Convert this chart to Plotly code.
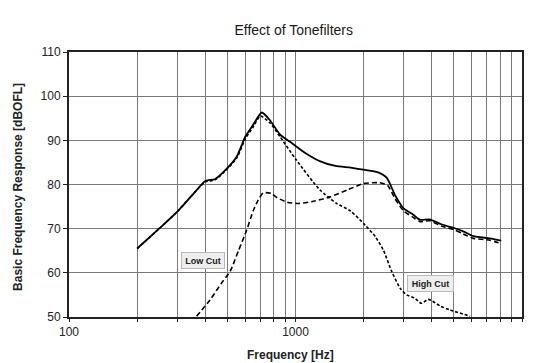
import plotly.graph_objects as go

# --- data ---
flat_f = [200, 250, 300, 350, 400, 440, 480, 550, 600, 650, 710, 770, 855, 950, 1100, 1280, 1500, 1750, 2030, 2300, 2530, 2750, 3000, 3300, 3550, 3900, 4400, 5050, 5500, 6100, 7200, 8100]
flat_v = [65.5, 70.0, 73.8, 77.6, 80.8, 81.2, 82.8, 86.3, 90.8, 93.5, 96.3, 94.6, 91.3, 89.6, 87.2, 85.3, 84.2, 83.8, 83.3, 82.8, 81.5, 77.6, 74.6, 73.2, 72.0, 72.1, 71.0, 70.1, 69.4, 68.3, 67.8, 67.3]

low_f = [366, 420, 470, 514, 560, 609, 650, 685, 720, 780, 830, 920, 1030, 1200, 1420, 1700, 2000, 2350, 2550, 2750, 3000, 3300, 3550, 3900, 4400, 5050, 5500, 6100, 7200, 8100]
low_v = [50.2, 53.9, 57.6, 60.3, 65.0, 69.7, 74.0, 76.5, 78.1, 78.0, 77.0, 76.0, 75.7, 76.2, 77.2, 78.8, 80.2, 80.4, 79.8, 76.8, 74.0, 72.6, 71.6, 71.8, 70.6, 69.7, 68.8, 67.8, 67.4, 66.6]

high_f = [200, 250, 300, 350, 400, 440, 480, 550, 600, 650, 700, 770, 855, 1010, 1280, 1520, 1750, 2030, 2250, 2440, 2660, 2900, 3100, 3350, 3600, 3860, 4350, 4800, 5900]
high_v = [65.5, 70.0, 73.8, 77.6, 80.6, 81.0, 82.6, 86.0, 90.3, 93.0, 95.5, 94.0, 90.8, 85.5, 78.8, 75.7, 74.0, 70.8, 68.2, 65.2, 60.3, 56.5, 55.0, 54.3, 53.1, 54.0, 52.5, 51.6, 50.2]

x_grid = [100, 200, 300, 400, 500, 600, 700, 800, 900, 1000, 2000, 3000, 4000, 5000, 6000, 7000, 8000, 9000, 10000]
x_labels = ["100" if v == 100 else "1000" if v == 1000 else "10000" if v == 10000 else "" for v in x_grid]
y_ticks = [50, 60, 70, 80, 90, 100, 110]

FONT = "Liberation Sans"

fig = go.Figure()
fig.add_trace(go.Scatter(x=flat_f, y=flat_v, mode="lines", name="Flat",
                         line=dict(color="black", width=1.8, shape="spline", smoothing=0.6)))
fig.add_trace(go.Scatter(x=low_f, y=low_v, mode="lines", name="Low Cut",
                         line=dict(color="black", width=1.6, dash="5px,3px", shape="spline", smoothing=0.6)))
fig.add_trace(go.Scatter(x=high_f, y=high_v, mode="lines", name="High Cut",
                         line=dict(color="black", width=1.6, dash="3px,2px", shape="spline", smoothing=0.6)))

fig.update_layout(
    width=539, height=363,
    margin=dict(l=69, r=17, t=52, b=46),
    paper_bgcolor="white", plot_bgcolor="white",
    showlegend=False,
    font=dict(family=FONT, color="#222"),
    title=dict(text="Effect of Tonefilters", x=0.545, xanchor="center", y=0.918, yanchor="middle",
               font=dict(family=FONT, size=14, color="#1a1a1a")),
    xaxis=dict(type="log", range=[2, 4], tickvals=x_grid, ticktext=x_labels,
               showgrid=True, gridcolor="#7a7a7a", gridwidth=1,
               showline=True, linecolor="#222", linewidth=2, mirror=True,
               ticks="outside", ticklen=3, tickcolor="#222",
               tickfont=dict(family=FONT, size=12, color="#222"), zeroline=False),
    yaxis=dict(range=[50, 110], tickvals=y_ticks,
               showgrid=True, gridcolor="#7a7a7a", gridwidth=1,
               showline=True, linecolor="#222", linewidth=2, mirror=True,
               ticks="outside", ticklen=4, tickcolor="#222",
               tickfont=dict(family=FONT, size=12, color="#222"), zeroline=False),
    annotations=[
        dict(text="<b>Frequency [Hz]</b>", xref="paper", yref="paper", x=0.49, y=-0.145,
             xanchor="center", yanchor="middle", showarrow=False,
             font=dict(family=FONT, size=12, color="#222")),
        dict(text="<b>Basic Frequency Response [dBOFL]</b>", xref="paper", yref="paper",
             x=-0.113, y=0.49, xanchor="center", yanchor="middle", textangle=-90, showarrow=False,
             font=dict(family=FONT, size=12, color="#222")),
        dict(text="<b>Low Cut</b>", x=2.592, y=62.8, xref="x", yref="y", showarrow=False,
             bgcolor="#eeeeee", bordercolor="#b8b8b8", borderwidth=1, borderpad=2,
             width=38, height=11, font=dict(family=FONT, size=9, color="#222")),
        dict(text="<b>High Cut</b>", x=3.596, y=57.5, xref="x", yref="y", showarrow=False,
             bgcolor="#eeeeee", bordercolor="#b8b8b8", borderwidth=1, borderpad=2,
             width=41, height=11, font=dict(family=FONT, size=9, color="#222")),
    ],
)

fig.write_html("out.html")
